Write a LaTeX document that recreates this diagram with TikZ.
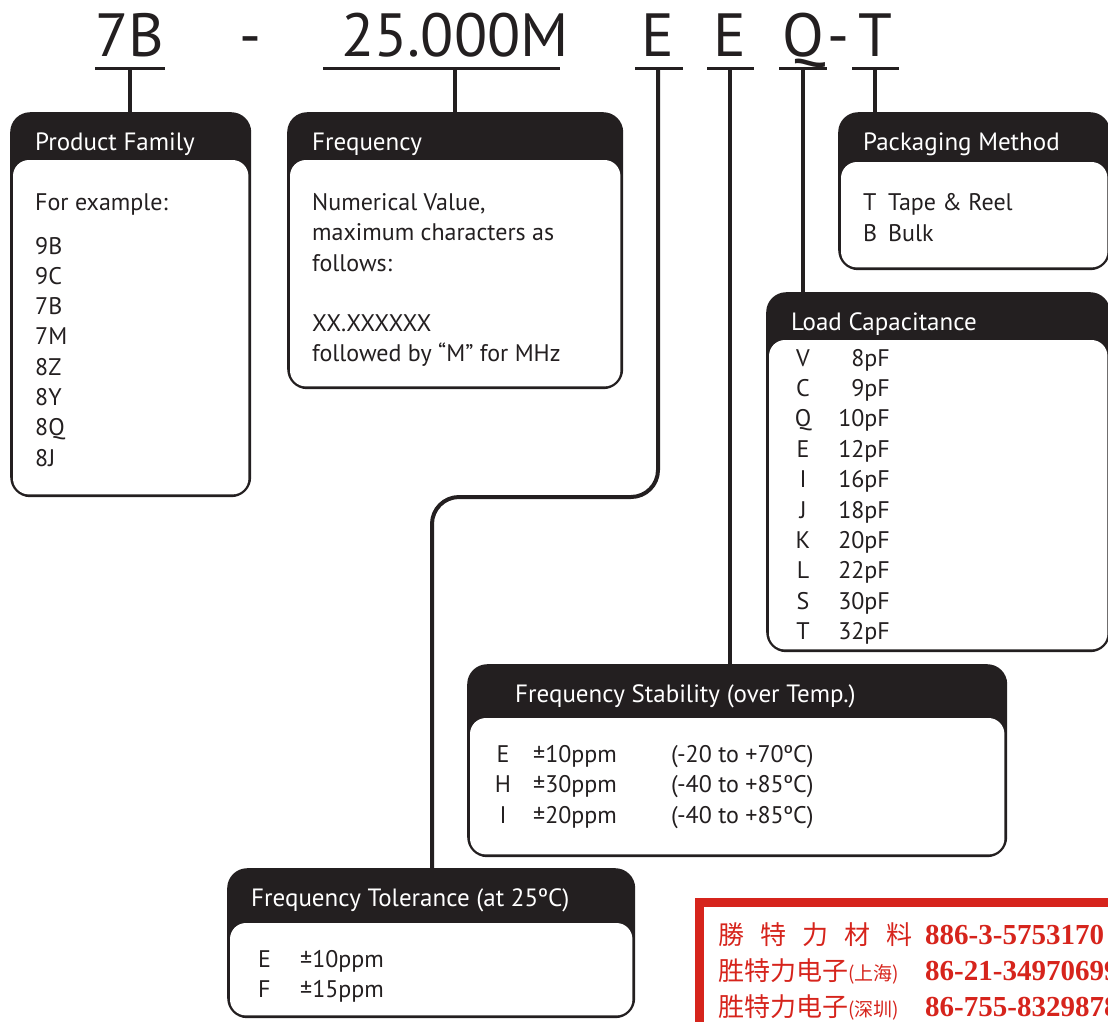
\documentclass[tikz,border=0pt]{standalone}
\usepackage{fontspec}
\setmainfont{PT Sans}
\newfontfamily\cjkfont{Noto Sans CJK SC}
\newfontfamily\telfont{Liberation Serif}
\usetikzlibrary{positioning,calc}

\definecolor{ink}{RGB}{35,31,32}
\definecolor{stamp}{RGB}{214,36,28}

\tikzset{
  code/.style={font=\fontsize{61}{61}\selectfont, text=ink, inner sep=0pt, anchor=base},
  codeline/.style={draw=ink, line width=3pt},
  lead/.style={draw=ink, line width=4pt},
  outerbox/.style={fill=ink, rounded corners=20pt, inner sep=0pt, anchor=north west},
  innerbox/.style={fill=white, rounded corners=16pt},
  boxhead/.style={text=white, font=\fontsize{25}{30}\selectfont, anchor=base west, inner sep=0pt},
  entry/.style={text=ink, font=\fontsize{24}{30}\selectfont, anchor=base west, inner sep=0pt},
  stamptext/.style={text=stamp, font=\fontsize{26}{30}\selectfont, anchor=base west, inner sep=0pt},
}

\begin{document}
\begin{tikzpicture}[x=1pt,y=-1pt]
    \useasboundingbox (0,0) rectangle (1108,1021);
    \clip (0,0) rectangle (1108,1021);

    % Part number
    \node[code] (cfam) at (130,56) {7B};
    \node[code] (dash1) at (250,56) {-};
    \node[code] (cfreq) at (455,56) {25.000M};
    \node[code] (ctol) at (658,56) {E};
    \node[code] (cstab) at (730,56) {E};
    \node[code] (cload) at (803,56) {Q};
    \node[code] (dash2) at (838,56) {-};
    \node[code] (cpack) at (875,56) {T};

    % Underlines
    \coordinate (ufam) at (130,68);
    \coordinate (ufreq) at (455,68);
    \coordinate (utol) at (658,68);
    \coordinate (ustab) at (730,68);
    \coordinate (uload) at (803,68);
    \coordinate (upack) at (875,68);
    \draw[codeline] (95,68) -- (165,68);
    \draw[codeline] (323,68) -- (560,68);
    \draw[codeline] (635,68) -- (683,68);
    \draw[codeline] (707,68) -- (754,68);
    \draw[codeline] (779,68) -- (827,68);
    \draw[codeline] (852,68) -- (899,68);

    % Boxes
    \node[outerbox, minimum width=241pt, minimum height=385pt] (famBox) at (10,112) {};
    \fill[innerbox] ($(famBox.south west)+(3,-3)$) rectangle ($(famBox.north east)+(-3,48)$);
    \node[outerbox, minimum width=336pt, minimum height=277pt] (freqBox) at (287,112) {};
    \fill[innerbox] ($(freqBox.south west)+(3,-3)$) rectangle ($(freqBox.north east)+(-3,48)$);
    \node[outerbox, minimum width=272pt, minimum height=158pt] (packBox) at (838,112) {};
    \fill[innerbox] ($(packBox.south west)+(3,-3)$) rectangle ($(packBox.north east)+(-3,50)$);
    \node[outerbox, minimum width=344pt, minimum height=360pt] (loadBox) at (766,292) {};
    \fill[innerbox] ($(loadBox.south west)+(3,-3)$) rectangle ($(loadBox.north east)+(-3,48)$);
    \node[outerbox, minimum width=540pt, minimum height=193pt] (stabBox) at (467,664) {};
    \fill[innerbox] ($(stabBox.south west)+(3,-3)$) rectangle ($(stabBox.north east)+(-3,54)$);
    \node[outerbox, minimum width=408pt, minimum height=150pt] (tolBox) at (227,868) {};
    \fill[innerbox] ($(tolBox.south west)+(3,-3)$) rectangle ($(tolBox.north east)+(-3,55)$);

    % Leads
    \draw[lead] (ufam) -- (famBox.north -| ufam);
    \draw[lead] (ufreq) -- (freqBox.north -| ufreq);
    \coordinate (bend) at (432,497);
    \draw[lead, rounded corners=27pt] (utol) |- (bend) -- (bend |- tolBox.north);
    \draw[lead] (ustab) -- (stabBox.north -| ustab);
    \draw[lead] (uload) -- (loadBox.north -| uload);
    \draw[lead] (upack) -- (packBox.north -| upack);

    % Product family
    \node[boxhead] (famHead) at (35,150) {Product Family};
    \node[entry] (famEx) at (35,210) {For example:};
    \foreach \fc [count=\i from 0] in {9B,9C,7B,7M,8Z,8Y,8Q,8J}
        \node[entry] (fam\i) at (35,{254+30.3*\i}) {\fc};

    % Frequency
    \node[boxhead] (freqHead) at (312,150) {Frequency};
    \node[entry] (freq1) at (312,210) {Numerical Value,};
    \node[entry] (freq2) at (312,240) {maximum characters as};
    \node[entry] (freq3) at (312,271) {follows:};
    \node[entry] (freq4) at (312,331) {XX.XXXXXX};
    \node[entry] (freq5) at (312,361) {followed by “M” for MHz};

    % Packaging
    \node[boxhead] (packHead) at (863,150) {Packaging Method};
    \node[entry] (packT) at (863,210) {T};
    \node[entry] (packTv) at (888,210) {Tape \& Reel};
    \node[entry] (packB) at (863,241) {B};
    \node[entry] (packBv) at (888,241) {Bulk};

    % Load capacitance
    \node[boxhead] (loadHead) at (791,330) {Load Capacitance};
    \foreach \lc/\lv [count=\i from 0] in {V/8pF,C/9pF,Q/10pF,E/12pF,I/16pF,J/18pF,K/20pF,L/22pF,S/30pF,T/32pF}{
        \node[entry, anchor=base] (load\i) at (803,{366+30.4*\i}) {\lc};
        \node[entry, anchor=base east] (loadv\i) at (890,{366+30.4*\i}) {\lv};
    }

    % Frequency stability
    \node[boxhead] (stabHead) at (515,702) {Frequency Stability (over Temp.)};
    \foreach \sc/\sp/\sr [count=\i from 0] in {E/10/-20 to +70,H/30/-40 to +85,I/20/-40 to +85}{
        \node[entry, anchor=base] (stab\i) at (503,{762+30.5*\i}) {\sc};
        \node[entry] (stabp\i) at (533,{762+30.5*\i}) {±\sp ppm};
        \node[entry] (stabr\i) at (671,{762+30.5*\i}) {(\sr ºC)};
    }

    % Frequency tolerance
    \node[boxhead] (tolHead) at (251,906) {Frequency Tolerance (at 25ºC)};
    \node[entry] (tolE) at (258,967) {E};
    \node[entry] (tolEv) at (300,967) {±10ppm};
    \node[entry] (tolF) at (258,997) {F};
    \node[entry] (tolFv) at (300,997) {±15ppm};

    % Stamp
    \draw[stamp, line width=9pt] (699.5,902.5) rectangle (1130,1040);
    \node[stamptext] (st1) at (718,944) {\cjkfont 勝\hspace{16pt}特\hspace{16pt}力\hspace{16pt}材\hspace{16pt}料};
    \node[stamptext] (st1n) at (925,944) {\telfont\bfseries\fontsize{29}{30}\selectfont 886-3-5753170};
    \node[stamptext] (st2) at (718,980) {\cjkfont 胜特力电子{\fontsize{19}{20}\selectfont(上海)}};
    \node[stamptext] (st2n) at (925,980) {\telfont\bfseries\fontsize{29}{30}\selectfont 86-21-34970699};
    \node[stamptext] (st3) at (718,1016) {\cjkfont 胜特力电子{\fontsize{19}{20}\selectfont(深圳)}};
    \node[stamptext] (st3n) at (925,1016) {\telfont\bfseries\fontsize{29}{30}\selectfont 86-755-83298787};
\end{tikzpicture}
\end{document}
